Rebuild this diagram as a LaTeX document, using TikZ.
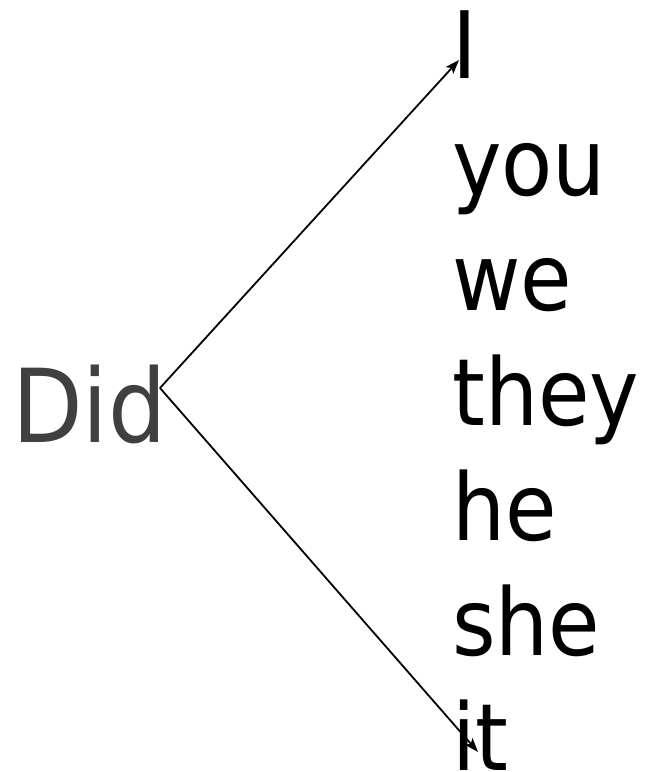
\documentclass[tikz,border=0pt]{standalone}
\usepackage{fontspec}
\setmainfont{DejaVu Sans Condensed}
\usetikzlibrary{arrows.meta}
\definecolor{didgray}{HTML}{404040}
\tikzset{
  word/.style={anchor=base west, inner sep=0pt, text=black, font=\fontsize{93}{110}\selectfont},
  conn/.style={line width=1.8pt, -{Stealth[length=14pt,width=10pt,inset=3pt]}}
}
\begin{document}
\begin{tikzpicture}[x=1pt,y=-1pt]
\useasboundingbox (0,0) rectangle (650,772);
\node[anchor=base west, inner sep=0pt, text=didgray, font=\fontsize{102}{120}\selectfont] (did) at (12,442) {Did};
\coordinate (start) at (160,388);
\coordinate (tipI) at (459,60);
\coordinate (tipit) at (478,752);
\draw[conn] (start) -- (tipI);
\draw[conn] (start) -- (tipit);
\node[word] (wI) at (452,78) {I};
\node[word] (wyou) at (452,195) {you};
\node[word] (wwe) at (452,310) {we};
\node[word] (wthey) at (452,425) {they};
\node[word] (whe) at (452,540) {he};
\node[word] (wshe) at (452,655) {she};
\node[word] (wit) at (452,770) {it};
\end{tikzpicture}
\end{document}
